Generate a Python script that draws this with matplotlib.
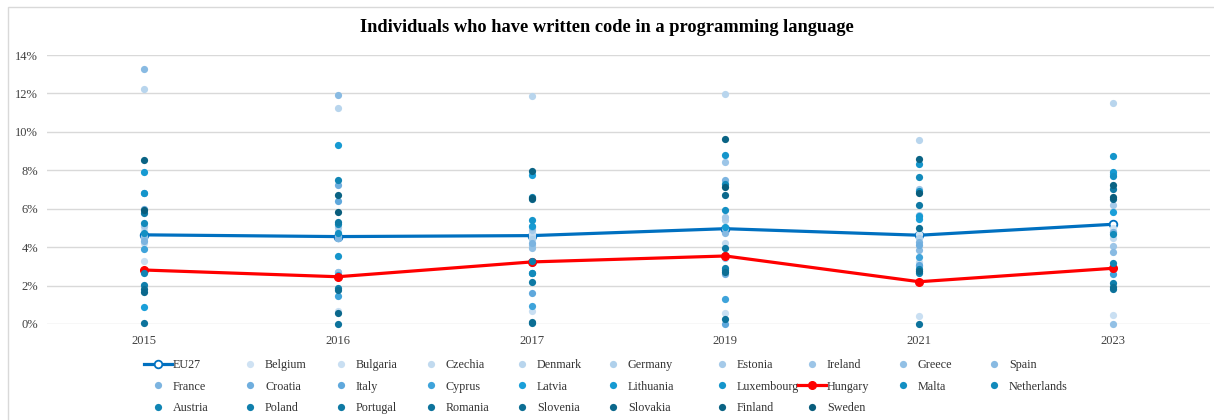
import matplotlib
matplotlib.use("Agg")
import matplotlib.pyplot as plt
from matplotlib.patches import Rectangle
from matplotlib.ticker import FuncFormatter

plt.rcParams['font.family'] = ['Liberation Serif', 'DejaVu Serif']

years = ["2015", "2016", "2017", "2019", "2021", "2023"]

eu27 = [4.64, 4.55, 4.60, 4.96, 4.62, 5.19]
hungary = [2.81, 2.46, 3.23, 3.54, 2.20, 2.90]

countries = ["Belgium", "Bulgaria", "Czechia", "Denmark", "Germany", "Estonia",
             "Ireland", "Greece", "Spain", "France", "Croatia", "Italy", "Cyprus",
             "Latvia", "Lithuania", "Luxembourg", "Malta", "Netherlands", "Austria",
             "Poland", "Portugal", "Romania", "Slovenia", "Slovakia", "Finland", "Sweden"]

belgium = [4.90, 4.90, 4.70, 5.00, 4.70, 5.00]
bulgaria = [3.28, 0.68, 0.69, 0.59, 0.42, 0.45]
czechia = [4.20, 4.46, 4.55, 4.20, 3.25, 4.46]
denmark = [12.22, 11.23, 11.85, 11.95, 9.58, 11.49]
germany = [4.60, 4.60, 4.40, 5.42, 4.50, 4.80]
estonia = [5.10, 5.07, 4.90, 5.56, 5.68, 6.20]
ireland = [2.80, 2.73, 4.10, 8.44, 7.01, 4.06]
greece = [4.50, 2.70, 3.98, 3.42, 3.00, 0.00]
spain = [13.28, 11.93, 5.03, 4.72, 3.85, 3.73]
france = [4.30, 4.50, 4.24, 7.47, 4.29, 4.78]
croatia = [6.00, 7.22, 3.20, 2.60, 4.11, 2.90]
italy = [6.84, 6.42, 1.63, 0.00, 3.07, 7.80]
cyprus = [3.90, 1.48, 0.95, 1.29, 3.47, 2.60]
latvia = [0.89, 2.55, 7.76, 3.59, 5.45, 5.85]
lithuania = [7.93, 9.31, 5.10, 5.07, 5.60, 7.93]
luxembourg = [6.80, 3.54, 5.42, 8.80, 8.32, 8.72]
malta = [4.75, 4.72, 2.65, 5.94, 6.90, 7.71]
netherlands = [5.28, 5.20, 2.64, 7.30, 7.67, 4.69]
austria = [2.67, 7.50, 6.60, 2.80, 2.67, 3.19]
poland = [2.01, 1.89, 3.30, 2.90, 2.85, 2.12]
portugal = [5.76, 5.30, 2.20, 3.94, 6.20, 7.03]
romania = [0.07, 0.00, 0.07, 0.24, 0.00, 1.82]
slovenia = [1.81, 1.77, 0.10, 2.73, 5.02, 1.94]
slovakia = [1.67, 0.56, 6.49, 6.72, 2.75, 6.49]
finland = [8.56, 6.70, 7.97, 9.64, 8.58, 7.24]
sweden = [5.94, 5.85, 6.55, 7.15, 6.84, 6.60]

country_values = [belgium, bulgaria, czechia, denmark, germany, estonia, ireland,
                  greece, spain, france, croatia, italy, cyprus, latvia, lithuania,
                  luxembourg, malta, netherlands, austria, poland, portugal, romania,
                  slovenia, slovakia, finland, sweden]

colors = ["#cfe2f3", "#c9dff2", "#c1daef", "#b8d5ed", "#afd0eb", "#a5cae9",
          "#9cc5e7", "#92c0e5", "#88bae2", "#7cb4e0", "#6faede", "#5fa8dc",
          "#3ea3da", "#1a9fd9", "#169ad2", "#1595cb", "#138fc3", "#128abb",
          "#1085b4", "#0f7fac", "#0e79a4", "#0d739c", "#0c6e94", "#0b688c",
          "#0a6384", "#095d7c"]

W, H = 1214, 420
fig = plt.figure(figsize=(W / 100, H / 100), dpi=100)
ax = fig.add_axes([47 / W, 1 - 324 / H, (1210 - 47) / W, (324 - 55) / H])

# chart-area border (left and top edges visible in the reference)
fig.add_artist(Rectangle((7.5 / W, -0.1), 1.2, 1.1 - 7.5 / H, transform=fig.transFigure,
                         fill=False, edgecolor="#d9d9d9", lw=1))

x = list(range(len(years)))

handles = {}
h, = ax.plot(x, [v / 100 for v in eu27], color="#0070c0", lw=2.3, marker="o",
             ms=5.5, mfc="white", mec="#0070c0", mew=1.3, zorder=3, clip_on=False)
handles["EU27"] = h

for i, (name, vals) in enumerate(zip(countries, country_values)):
    if name == "Malta":
        hh, = ax.plot(x, [v / 100 for v in hungary], color="#ff0000", lw=2.3,
                      marker="o", ms=5.5, mfc="#ff0000", mec="#ff0000", zorder=3,
                      clip_on=False)
        handles["Hungary"] = hh
    hc, = ax.plot(x, [v / 100 for v in vals], ls="none", marker="o", ms=5.2,
                  mfc=colors[i], mec=colors[i], mew=0, zorder=3, clip_on=False)
    handles[name] = hc

ax.set_xlim(-0.5, len(years) - 0.5)
ax.set_ylim(0, 0.14)
ax.set_yticks([i * 0.02 for i in range(8)])
ax.yaxis.set_major_formatter(FuncFormatter(lambda v, p: f"{v * 100:.0f}%"))
ax.set_xticks(x)
ax.set_xticklabels(years)
ax.grid(axis="y", color="#d9d9d9", lw=1)
ax.set_axisbelow(True)
for s in ax.spines.values():
    s.set_visible(False)
ax.tick_params(axis="both", length=0, labelsize=9, colors="#404040")
ax.tick_params(axis="y", pad=6.5)
ax.tick_params(axis="x", pad=8)

fig.text(607 / W, 1 - 27 / H, "Individuals who have written code in a programming language",
         ha="center", va="center", fontsize=13.2, fontweight="bold", color="black")

# legend: rows in row-major order, 10 columns
order = ["EU27"] + countries[:16] + ["Hungary"] + countries[16:]
ncol = 10
text_x = [173, 265, 356, 446, 537, 628, 737, 827, 918, 1009]
for c in range(ncol):
    names = [order[r * ncol + c] for r in range(3) if r * ncol + c < len(order)]
    fig.legend([handles[n] for n in names], names, loc="upper left",
               bbox_to_anchor=((text_x[c] - 29) / W, 1 - 359 / H),
               frameon=False, fontsize=8.7, handlelength=2.3, handletextpad=0.1,
               borderpad=0, borderaxespad=0, labelspacing=0.8,
               labelcolor="#333333")

fig.savefig("out.png", dpi=100)
